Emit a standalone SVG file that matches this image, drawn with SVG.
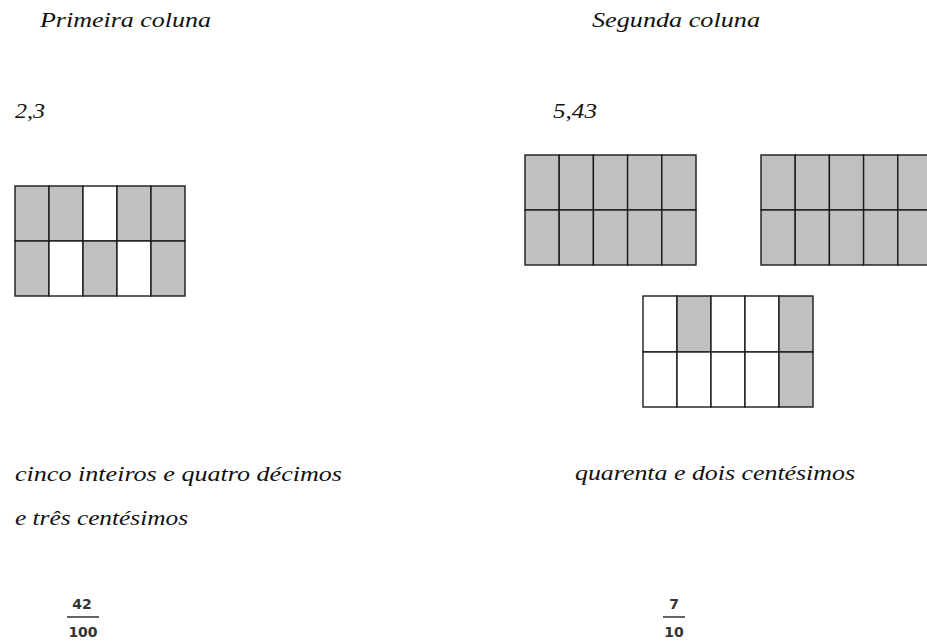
<svg xmlns="http://www.w3.org/2000/svg" width="927" height="642" viewBox="0 0 927 642">
<style>
.t{font-family:"Liberation Serif","DejaVu Serif",serif;font-style:italic;font-size:22px;fill:#111}
.f{font-family:"DejaVu Sans","Liberation Sans",sans-serif;font-size:14px;font-weight:bold;fill:#333;text-anchor:middle}
.g{fill:#c0c0c0;stroke:#1a1a1a;stroke-width:1.4}
.w{fill:#fff;stroke:#1a1a1a;stroke-width:1.4}
.bar{stroke:#333;stroke-width:1.5}
</style>
<rect width="927" height="642" fill="#fff"/>
<g id="titles">
<text class="t" x="40" y="27" textLength="171" lengthAdjust="spacingAndGlyphs">Primeira coluna</text>
<text class="t" x="592" y="27" textLength="168" lengthAdjust="spacingAndGlyphs">Segunda coluna</text>
<text class="t" x="15" y="118" textLength="30" lengthAdjust="spacingAndGlyphs">2,3</text>
<text class="t" x="553" y="118" textLength="44" lengthAdjust="spacingAndGlyphs">5,43</text>
</g>
<g id="grid1">
<rect class="g" x="15" y="186" width="34" height="55"/>
<rect class="g" x="49" y="186" width="34" height="55"/>
<rect class="w" x="83" y="186" width="34" height="55"/>
<rect class="g" x="117" y="186" width="34" height="55"/>
<rect class="g" x="151" y="186" width="34" height="55"/>
<rect class="g" x="15" y="241" width="34" height="55"/>
<rect class="w" x="49" y="241" width="34" height="55"/>
<rect class="g" x="83" y="241" width="34" height="55"/>
<rect class="w" x="117" y="241" width="34" height="55"/>
<rect class="g" x="151" y="241" width="34" height="55"/>
</g>
<g id="grid2">
<rect class="g" x="525" y="155" width="34.2" height="55"/>
<rect class="g" x="559.2" y="155" width="34.2" height="55"/>
<rect class="g" x="593.4" y="155" width="34.2" height="55"/>
<rect class="g" x="627.6" y="155" width="34.2" height="55"/>
<rect class="g" x="661.8" y="155" width="34.2" height="55"/>
<rect class="g" x="525" y="210" width="34.2" height="55"/>
<rect class="g" x="559.2" y="210" width="34.2" height="55"/>
<rect class="g" x="593.4" y="210" width="34.2" height="55"/>
<rect class="g" x="627.6" y="210" width="34.2" height="55"/>
<rect class="g" x="661.8" y="210" width="34.2" height="55"/>
</g>
<g id="grid3">
<rect class="g" x="761" y="155" width="34.2" height="55"/>
<rect class="g" x="795.2" y="155" width="34.2" height="55"/>
<rect class="g" x="829.4" y="155" width="34.2" height="55"/>
<rect class="g" x="863.6" y="155" width="34.2" height="55"/>
<rect class="g" x="897.8" y="155" width="34.2" height="55"/>
<rect class="g" x="761" y="210" width="34.2" height="55"/>
<rect class="g" x="795.2" y="210" width="34.2" height="55"/>
<rect class="g" x="829.4" y="210" width="34.2" height="55"/>
<rect class="g" x="863.6" y="210" width="34.2" height="55"/>
<rect class="g" x="897.8" y="210" width="34.2" height="55"/>
</g>
<g id="grid4">
<rect class="w" x="643" y="296" width="34" height="56"/>
<rect class="g" x="677" y="296" width="34" height="56"/>
<rect class="w" x="711" y="296" width="34" height="56"/>
<rect class="w" x="745" y="296" width="34" height="56"/>
<rect class="g" x="779" y="296" width="34" height="56"/>
<rect class="w" x="643" y="352" width="34" height="55"/>
<rect class="w" x="677" y="352" width="34" height="55"/>
<rect class="w" x="711" y="352" width="34" height="55"/>
<rect class="w" x="745" y="352" width="34" height="55"/>
<rect class="g" x="779" y="352" width="34" height="55"/>
</g>
<g id="words">
<text class="t" x="15" y="481" textLength="327" lengthAdjust="spacingAndGlyphs">cinco inteiros  e quatro décimos</text>
<text class="t" x="15" y="525" textLength="173" lengthAdjust="spacingAndGlyphs">e três centésimos</text>
<text class="t" x="575" y="480" textLength="280" lengthAdjust="spacingAndGlyphs">quarenta e dois centésimos</text>
</g>
<g id="frac1">
<text class="f" x="82" y="609">42</text>
<line class="bar" x1="67" y1="617" x2="99" y2="617"/>
<text class="f" x="83" y="637">100</text>
</g>
<g id="frac2">
<text class="f" x="674" y="609">7</text>
<line class="bar" x1="663" y1="617" x2="685" y2="617"/>
<text class="f" x="674" y="637">10</text>
</g>
</svg>
